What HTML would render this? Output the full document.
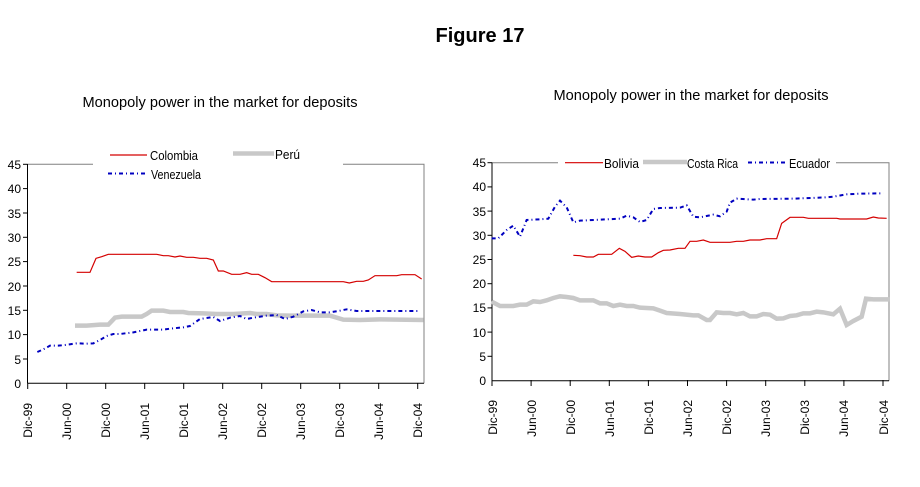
<!DOCTYPE html>
<html><head><meta charset="utf-8"><style>
body{margin:0;background:#fff;}
svg{display:block;font-family:"Liberation Sans",Arial,sans-serif;}
.t{font-size:12px;fill:#000;}
</style></head><body>
<svg width="920" height="487" viewBox="0 0 920 487">
<rect width="920" height="487" fill="#fff"/>
<text x="480" y="42" text-anchor="middle" font-size="20" font-weight="bold">Figure 17</text>
<text x="220" y="107" text-anchor="middle" font-size="15" textLength="275" lengthAdjust="spacingAndGlyphs">Monopoly power in the market for deposits</text>
<text x="691" y="100" text-anchor="middle" font-size="15" textLength="275" lengthAdjust="spacingAndGlyphs">Monopoly power in the market for deposits</text>

<!-- LEFT CHART -->
<g>
<polyline points="27.5,164.3 424,164.3 424,383.3" fill="none" stroke="#808080" stroke-width="1"/>
<line x1="27.5" y1="164" x2="27.5" y2="383.3" stroke="#000"/>
<line x1="27.5" y1="383.3" x2="424" y2="383.3" stroke="#000"/>
<g stroke="#000">
<line x1="23" x2="27.5" y1="164.3" y2="164.3"/><line x1="23" x2="27.5" y1="188.6" y2="188.6"/><line x1="23" x2="27.5" y1="213" y2="213"/><line x1="23" x2="27.5" y1="237.3" y2="237.3"/><line x1="23" x2="27.5" y1="261.6" y2="261.6"/><line x1="23" x2="27.5" y1="286" y2="286"/><line x1="23" x2="27.5" y1="310.3" y2="310.3"/><line x1="23" x2="27.5" y1="334.6" y2="334.6"/><line x1="23" x2="27.5" y1="359" y2="359"/>
</g>
<g class="t" text-anchor="end">
<text x="21" y="169">45</text><text x="21" y="193">40</text><text x="21" y="218">35</text><text x="21" y="242">30</text><text x="21" y="266">25</text><text x="21" y="291">20</text><text x="21" y="315">15</text><text x="21" y="339">10</text><text x="21" y="364">5</text><text x="21" y="388">0</text>
</g>
<g stroke="#000" id="tl">
<line x1="27.7" x2="27.7" y1="383" y2="389"/><line x1="66.7" x2="66.7" y1="383" y2="389"/><line x1="105.7" x2="105.7" y1="383" y2="389"/><line x1="144.7" x2="144.7" y1="383" y2="389"/><line x1="183.7" x2="183.7" y1="383" y2="389"/><line x1="222.7" x2="222.7" y1="383" y2="389"/><line x1="261.7" x2="261.7" y1="383" y2="389"/><line x1="300.7" x2="300.7" y1="383" y2="389"/><line x1="339.7" x2="339.7" y1="383" y2="389"/><line x1="378.7" x2="378.7" y1="383" y2="389"/><line x1="417.7" x2="417.7" y1="383" y2="389"/>
</g>
<g class="t" text-anchor="end">
<text transform="translate(32,403) rotate(-90)">Dic-99</text>
<text transform="translate(71,403) rotate(-90)">Jun-00</text>
<text transform="translate(110,403) rotate(-90)">Dic-00</text>
<text transform="translate(149,403) rotate(-90)">Jun-01</text>
<text transform="translate(188,403) rotate(-90)">Dic-01</text>
<text transform="translate(227,403) rotate(-90)">Jun-02</text>
<text transform="translate(266,403) rotate(-90)">Dic-02</text>
<text transform="translate(305,403) rotate(-90)">Jun-03</text>
<text transform="translate(344,403) rotate(-90)">Dic-03</text>
<text transform="translate(383,403) rotate(-90)">Jun-04</text>
<text transform="translate(422,403) rotate(-90)">Dic-04</text>
</g>
<g transform="translate(0,140) scale(0.33333)" fill="none">
<polyline vector-effect="non-scaling-stroke" stroke="#c8c8c8" stroke-width="4.5" points="225,557 260,557 300,554 325,554 345,533 365,530 425,530 440,522 455,512 490,512 510,516 550,516 565,519 610,520 650,522 700,522 720,521 750,519 770,522 800,522 830,526 870,527 990,527 1030,539 1080,540 1140,538 1270,540"/>
<polyline vector-effect="non-scaling-stroke" stroke="#d40000" stroke-width="1.2" points="230,397 270,397 288,355 305,350 325,343 470,343 490,347 505,347 525,351 540,348 560,352 580,352 600,355 620,355 640,360 655,393 670,393 695,403 720,403 740,398 755,403 775,403 795,413 815,425 1030,425 1048,429 1070,424 1090,424 1105,420 1125,407 1190,407 1205,404 1245,404 1265,417"/>
<polyline vector-effect="non-scaling-stroke" stroke="#0000c0" stroke-width="2" stroke-dasharray="4 3 1 3" points="112,636 130,628 150,617 175,617 195,615 230,610 260,611 280,610 300,600 320,588 340,582 360,582 400,577 440,569 490,569 510,566 550,562 570,558 600,537 640,531 660,543 690,533 720,528 740,537 760,533 800,527 830,525 855,537 880,530 910,514 935,510 960,517 990,517 1020,512 1040,508 1070,513 1100,513 1255,513"/>
</g>
<rect x="93" y="150" width="250" height="30" fill="#fff"/>
<line x1="110" y1="155" x2="147" y2="155" stroke="#d40000" stroke-width="1.2"/>
<text x="150" y="160" font-size="12.5" textLength="48" lengthAdjust="spacingAndGlyphs">Colombia</text>
<line x1="233" y1="153.5" x2="274" y2="153.5" stroke="#c8c8c8" stroke-width="4.5"/>
<text x="275" y="159" font-size="12.5" textLength="25" lengthAdjust="spacingAndGlyphs">Perú</text>
<line x1="108" y1="173.5" x2="147" y2="173.5" stroke="#0000c0" stroke-width="2" stroke-dasharray="4 3 1 3"/>
<text x="151" y="179" font-size="12.5" textLength="50" lengthAdjust="spacingAndGlyphs">Venezuela</text>
</g>

<!-- RIGHT CHART -->
<g>
<polyline points="492,162.7 889,162.7 889,380.7" fill="none" stroke="#808080" stroke-width="1"/>
<line x1="492" y1="162.5" x2="492" y2="380.7" stroke="#000"/>
<line x1="492" y1="380.7" x2="889" y2="380.7" stroke="#000"/>
<g stroke="#000">
<line x1="487.5" x2="492" y1="162.7" y2="162.7"/><line x1="487.5" x2="492" y1="186.9" y2="186.9"/><line x1="487.5" x2="492" y1="211.1" y2="211.1"/><line x1="487.5" x2="492" y1="235.3" y2="235.3"/><line x1="487.5" x2="492" y1="259.5" y2="259.5"/><line x1="487.5" x2="492" y1="283.7" y2="283.7"/><line x1="487.5" x2="492" y1="307.9" y2="307.9"/><line x1="487.5" x2="492" y1="332.1" y2="332.1"/><line x1="487.5" x2="492" y1="356.3" y2="356.3"/>
</g>
<g class="t" text-anchor="end">
<text x="486" y="167">45</text><text x="486" y="191">40</text><text x="486" y="216">35</text><text x="486" y="240">30</text><text x="486" y="264">25</text><text x="486" y="288">20</text><text x="486" y="312">15</text><text x="486" y="337">10</text><text x="486" y="361">5</text><text x="486" y="385">0</text>
</g>
<g stroke="#000">
<line x1="492" x2="492" y1="380" y2="386"/><line x1="531.1" x2="531.1" y1="380" y2="386"/><line x1="570.2" x2="570.2" y1="380" y2="386"/><line x1="609.3" x2="609.3" y1="380" y2="386"/><line x1="648.4" x2="648.4" y1="380" y2="386"/><line x1="687.5" x2="687.5" y1="380" y2="386"/><line x1="726.6" x2="726.6" y1="380" y2="386"/><line x1="765.7" x2="765.7" y1="380" y2="386"/><line x1="804.8" x2="804.8" y1="380" y2="386"/><line x1="843.9" x2="843.9" y1="380" y2="386"/><line x1="883" x2="883" y1="380" y2="386"/>
</g>
<g class="t" text-anchor="end">
<text transform="translate(497,400) rotate(-90)">Dic-99</text>
<text transform="translate(536,400) rotate(-90)">Jun-00</text>
<text transform="translate(575,400) rotate(-90)">Dic-00</text>
<text transform="translate(614,400) rotate(-90)">Jun-01</text>
<text transform="translate(653,400) rotate(-90)">Dic-01</text>
<text transform="translate(692,400) rotate(-90)">Jun-02</text>
<text transform="translate(731,400) rotate(-90)">Dic-02</text>
<text transform="translate(770,400) rotate(-90)">Jun-03</text>
<text transform="translate(809,400) rotate(-90)">Dic-03</text>
<text transform="translate(848,400) rotate(-90)">Jun-04</text>
<text transform="translate(888,400) rotate(-90)">Dic-04</text>
</g>
<g transform="translate(460,140) scale(0.33333)" fill="none">
<polyline vector-effect="non-scaling-stroke" stroke="#c8c8c8" stroke-width="4.5" points="95,485 120,498 160,498 180,494 200,494 220,484 240,486 260,481 280,474 300,469 320,471 340,474 360,481 400,481 420,490 440,490 460,498 480,494 500,498 520,498 540,503 580,505 600,512 620,519 660,522 700,526 715,526 740,540 750,540 770,517 790,519 810,519 830,523 850,519 870,529 890,529 910,522 930,524 950,536 970,535 990,528 1010,526 1030,520 1050,520 1070,515 1090,517 1120,523 1140,506 1160,555 1180,543 1205,530 1218,476 1240,478 1290,478"/>
<polyline vector-effect="non-scaling-stroke" stroke="#d40000" stroke-width="1.2" points="340,346 360,347 380,351 400,351 415,343 455,343 478,325 495,334 515,352 535,348 555,351 575,351 595,338 610,331 630,330 655,325 675,325 690,304 710,304 730,300 750,307 810,307 830,304 850,304 870,300 900,300 920,296 950,296 965,250 990,232 1030,232 1045,235 1130,235 1140,237 1220,237 1240,231 1255,234 1280,235"/>
<polyline vector-effect="non-scaling-stroke" stroke="#0000c0" stroke-width="2" stroke-dasharray="4 3 1 3" points="95,295 115,295 140,270 160,257 180,290 200,240 240,238 265,236 285,200 300,182 320,202 340,247 360,242 440,238 480,236 500,227 520,232 540,246 560,240 580,207 600,204 660,203 680,196 700,230 720,232 760,224 780,229 800,215 810,188 830,176 880,179 900,177 1000,176 1100,172 1120,170 1160,163 1200,161 1270,160"/>
</g>
<rect x="558" y="155" width="278" height="15" fill="#fff"/>
<line x1="565" y1="162.7" x2="603" y2="162.7" stroke="#d40000" stroke-width="1.2"/>
<text x="604" y="168" font-size="12.5" textLength="35" lengthAdjust="spacingAndGlyphs">Bolivia</text>
<line x1="643" y1="162" x2="687" y2="162" stroke="#c8c8c8" stroke-width="4.5"/>
<text x="687" y="168" font-size="12.5" textLength="51" lengthAdjust="spacingAndGlyphs">Costa Rica</text>
<line x1="748" y1="162.5" x2="788" y2="162.5" stroke="#0000c0" stroke-width="2" stroke-dasharray="4 3 1 3"/>
<text x="789" y="168" font-size="12.5" textLength="41" lengthAdjust="spacingAndGlyphs">Ecuador</text>
</g>
</svg>
</body></html>
